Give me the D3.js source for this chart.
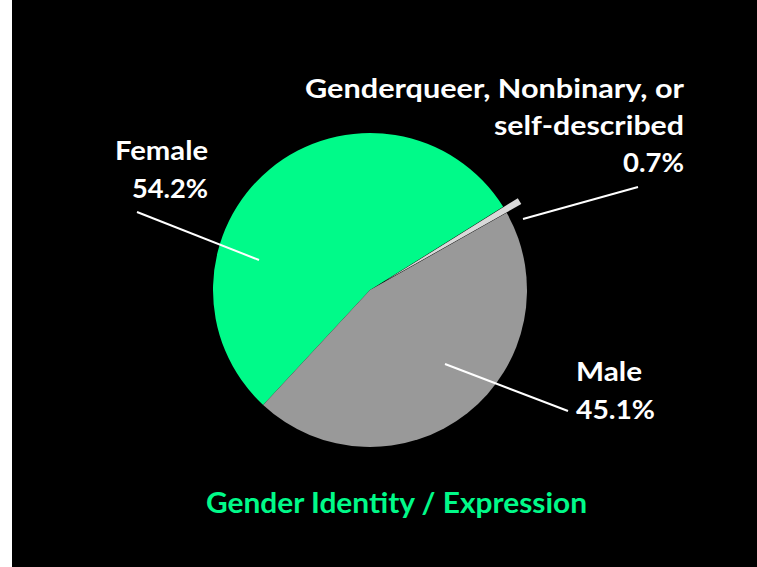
<!DOCTYPE html>
<html>
<head>
<meta charset="utf-8">
<script src="https://cdn.jsdelivr.net/npm/d3@7"></script>
<style>
  body { margin: 0; background: #fff; }
  text { font-family: Lato, "Open Sans", sans-serif; font-weight: bold; }
</style>
</head>
<body>
<div id="pie-chart"></div>
<script>
// data
var categories = ["Female", "Genderqueer, Nonbinary, or self-described", "Male"]
var shares = [54.2, 0.7, 45.1]
var labelLines = [["Female", "54.2%"], ["Genderqueer, Nonbinary, or", "self-described", "0.7%"], ["Male", "45.1%"]]
var title = "Gender Identity / Expression"

var colors = ["#00fa89", "#d9d9d9", "#999999"]
var explode = [0, 17, 0]

// label placement (anchor x, first baseline, line gap, text widths), leader ends
var labelLayout = [
  { anchor: "end", x: 208, y: 160, gap: 38, widths: [93, 76], line: [[137, 212], [259, 260]] },
  { anchor: "end", x: 684, y: 98, gap: 37, widths: [379, 190, 61], line: [[638, 187], [523, 219]] },
  { anchor: "start", x: 576, y: 381, gap: 38, widths: [66, 79], line: [[568, 411], [445, 364]] }
]

var width = 757, height = 567
var cx = 370, cy = 290, radius = 157
var startDeg = 222.9

var svg = d3.select("#pie-chart").append("svg").attr("width", width).attr("height", height)
svg.append("rect").attr("x", 12).attr("y", 0).attr("width", width - 12).attr("height", height).attr("fill", "#000")

var data = categories.map((c, i) => { return { name: c, value: shares[i], i: i } })
var start = startDeg * Math.PI / 180
var pie = d3.pie().sort(null).value((d) => { return d.value }).startAngle(start).endAngle(start + 2 * Math.PI)
var arc = d3.arc().innerRadius(0).outerRadius(radius)

var g = svg.append("g").attr("transform", "translate(" + cx + "," + cy + ")")
g.selectAll(".slice")
  .data(pie(data))
  .enter()
  .append("path")
  .attr("class", "slice")
  .attr("d", arc)
  .attr("fill", (d) => { return colors[d.data.i] })
  .attr("transform", (d) => {
    var mid = (d.startAngle + d.endAngle) / 2
    var p = d3.pointRadial(mid, explode[d.data.i])
    return "translate(" + p[0] + "," + p[1] + ")"
  })

// leader lines
svg.selectAll(".leader")
  .data(labelLayout)
  .enter()
  .append("line")
  .attr("class", "leader")
  .attr("x1", (d) => { return d.line[0][0] })
  .attr("y1", (d) => { return d.line[0][1] })
  .attr("x2", (d) => { return d.line[1][0] })
  .attr("y2", (d) => { return d.line[1][1] })
  .attr("stroke", "#fff")
  .attr("stroke-width", 2)

// data labels
labelLayout.forEach((l, i) => {
  var t = svg.append("text").attr("text-anchor", l.anchor).attr("fill", "#fff").style("font-size", "26px")
  labelLines[i].forEach((s, j) => {
    t.append("tspan")
      .attr("x", l.x)
      .attr("y", l.y + j * l.gap)
      .attr("textLength", l.widths[j])
      .attr("lengthAdjust", "spacingAndGlyphs")
      .text(s)
  })
})

svg.append("text")
  .attr("x", 396.5)
  .attr("y", 513)
  .attr("text-anchor", "middle")
  .attr("fill", colors[0])
  .style("font-size", "29px")
  .attr("textLength", 381)
  .attr("lengthAdjust", "spacingAndGlyphs")
  .text(title)
</script>
</body>
</html>
